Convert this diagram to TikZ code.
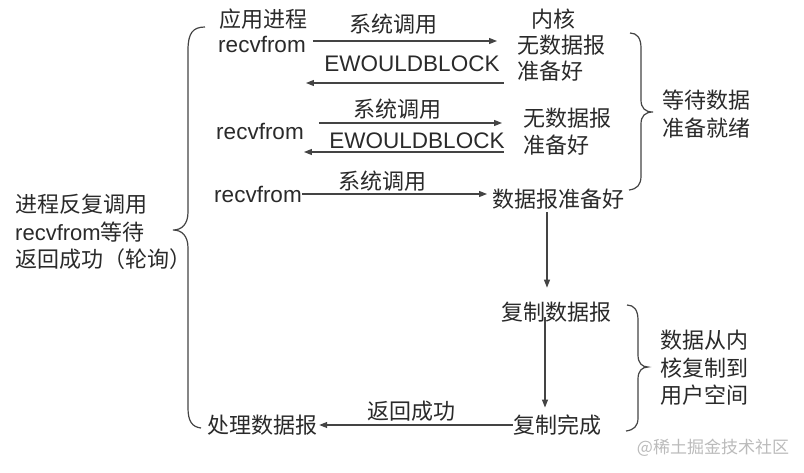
\documentclass[tikz,border=0pt]{standalone}
\usepackage{fontspec}
\setmainfont{Liberation Sans}
\newfontfamily\cjk{Noto Sans CJK SC}
\usetikzlibrary{arrows.meta,calc}
\definecolor{ink}{HTML}{2A2A2A}
\definecolor{wirec}{HTML}{444444}
\definecolor{markc}{HTML}{BBBBBB}
\begin{document}
\begin{tikzpicture}[x=1pt,y=-1pt,
  lat/.style={inner sep=0pt,text=ink,font=\fontsize{22.5}{27}\selectfont},
  zh/.style={inner sep=0pt,text=ink,font=\cjk\fontsize{22}{27.5}\selectfont},
  zhblock/.style={zh,align=left,anchor=west},
  arr/.style={draw=wirec,line width=1.2pt,-{Triangle[length=8pt,width=6pt]}},
  wire/.style={draw=wirec,line width=1.2pt}]
\fill[white] (0,0) rectangle (804,472);
\useasboundingbox (0,0) rectangle (804,472);

% text nodes
\node[zh] (app) at (263,19) {应用进程};
\node[lat] (r1) at (262,44) {recvfrom};
\node[zh] (sc1) at (393,24) {系统调用};
\node[lat] (ew1) at (412,64) {EWOULDBLOCK};
\node[zh] (kern) at (553,19) {内核};
\node[zh,anchor=west] (k1a) at (517,45) {无数据报};
\node[zh,anchor=west] (k1b) at (517,71) {准备好};
\node[zh] (sc2) at (397,109) {系统调用};
\node[lat] (r2) at (260,131) {recvfrom};
\node[lat] (ew2) at (417,141) {EWOULDBLOCK};
\node[zh,anchor=west] (k2a) at (523,118) {无数据报};
\node[zh,anchor=west] (k2b) at (523,145) {准备好};
\node[zh] (sc3) at (382,181) {系统调用};
\node[lat] (r3) at (258,194) {recvfrom};
\node[zh,anchor=west] (ready) at (492,199) {数据报准备好};
\node[zhblock] (wait) at (662,114) {等待数据\\准备就绪};
\node[zh] (copy) at (556,312) {复制数据报};
\node[zh] (done) at (557,425) {复制完成};
\node[zh] (proc) at (262,425) {处理数据报};
\node[zh] (ret) at (411,411) {返回成功};
\node[zhblock] (move) at (660,368) {数据从内\\核复制到\\用户空间};
\node[zhblock] (poll) at (15,232) {进程反复调用\\{\rmfamily recvfrom}等待\\返回成功（轮询）};
\node[inner sep=0pt,text=markc,font=\cjk\fontsize{17}{20}\selectfont] (wm) at (713,448) {@稀土掘金技术社区};

% connectors
\draw[arr,shorten <=7pt,shorten >=20pt] ([yshift=3pt]r1.east) -- ([yshift=3pt]r1.east -| k1a.west);
\coordinate (b1) at ($(ew1.east)+(4,19)$);
\draw[arr] (b1) -- (b1 -| r1.east);
\draw[arr,shorten <=15pt,shorten >=21pt] ([yshift=8pt]r2.east) -- ([yshift=8pt]r2.east -| k2a.west);
\coordinate (b2) at ($(ew2.east)+(-1,11)$);
\draw[arr] (b2) -- (b2 -| r2.east);
\draw[arr,shorten >=5pt] (r3.east) -- (r3.east -| ready.west);
\coordinate (v1) at (547,0);
\draw[arr,shorten <=3pt,shorten >=14pt] (ready.south -| v1) -- (copy.north -| v1);
\coordinate (v2) at (545,0);
\draw[arr,shorten <=-5pt,shorten >=7pt] (copy.south -| v2) -- (done.north -| v2);
\draw[arr,shorten >=2pt] (done.west) -- (done.west -| proc.east);

% braces
\draw[wire] (205,27) .. controls (193,27) and (188,33) .. (188,50) -- (188,212)
  .. controls (188,224) and (182,230) .. (173,230)
  .. controls (182,230) and (188,236) .. (188,248) -- (188,408)
  .. controls (188,421) and (192,427) .. (201,428);
\draw[wire] (630,33) .. controls (637,33) and (641,38) .. (641,48) -- (641,100)
  .. controls (641,108) and (645,112) .. (653,112)
  .. controls (645,112) and (641,116) .. (641,124) -- (641,176)
  .. controls (641,185) and (637,189) .. (629,190);
\draw[wire] (627,305) .. controls (634,305) and (638,310) .. (638,320) -- (638,355)
  .. controls (638,363) and (642,367) .. (648,367)
  .. controls (642,367) and (638,371) .. (638,379) -- (638,418)
  .. controls (638,426) and (634,430) .. (626,431);
\end{tikzpicture}
\end{document}
